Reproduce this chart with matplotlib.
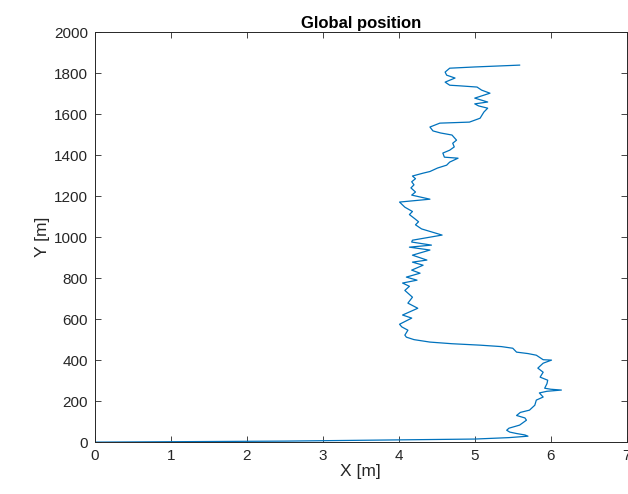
import matplotlib
matplotlib.use("Agg")
import matplotlib.pyplot as plt
import numpy as np

# Path of global position (X [m], Y [m])
x_m = [0.00, 2.50, 5.00, 5.45, 5.70, 5.66, 5.55, 5.46, 5.42, 5.45, 5.59, 5.68, 5.66, 5.55,
       5.60, 5.72, 5.79, 5.81, 5.90, 5.85, 5.95, 6.14, 6.00, 5.92, 5.95, 5.96, 5.86, 5.90,
       5.83, 5.90, 6.01, 5.90, 5.81, 5.70, 5.55, 5.50, 5.35, 5.07, 4.70, 4.41, 4.20, 4.10,
       4.08, 4.12, 4.04, 4.01, 4.17, 4.05, 4.25, 4.12, 4.18, 4.08, 4.14, 4.05, 4.24, 4.10,
       4.28, 4.17, 4.32, 4.18, 4.37, 4.18, 4.41, 4.14, 4.43, 4.17, 4.18, 4.57, 4.30, 4.22,
       4.26, 4.21, 4.14, 4.18, 4.08, 4.01, 4.41, 4.17, 4.22, 4.16, 4.20, 4.17, 4.22, 4.18,
       4.32, 4.41, 4.51, 4.63, 4.67, 4.78, 4.60, 4.58, 4.67, 4.73, 4.71, 4.76, 4.70, 4.55,
       4.45, 4.41, 4.54, 4.93, 5.07, 5.12, 5.17, 5.05, 5.00, 5.17, 5.00, 5.20, 5.09, 5.03,
       4.80, 4.67, 4.61, 4.74, 4.63, 4.61, 4.67, 5.00, 5.59]
y_m = [0, 5, 15, 22, 29, 35, 42, 49, 58, 68, 83, 107, 118, 130,
       145, 156, 180, 205, 220, 240, 248, 254, 258, 263, 285, 302, 317, 341,
       361, 385, 400, 402, 424, 432, 439, 458, 466, 473, 480, 488, 500, 512,
       522, 546, 562, 575, 605, 620, 653, 678, 707, 740, 760, 776, 790, 805,
       824, 839, 863, 878, 888, 912, 937, 951, 961, 976, 985, 1010, 1040, 1060,
       1075, 1090, 1110, 1125, 1146, 1171, 1185, 1205, 1220, 1240, 1255, 1270, 1285, 1298,
       1312, 1320, 1337, 1351, 1366, 1385, 1390, 1410, 1424, 1440, 1458, 1473, 1498, 1508,
       1518, 1537, 1556, 1561, 1580, 1610, 1629, 1640, 1650, 1659, 1678, 1702, 1717, 1732,
       1738, 1741, 1756, 1776, 1790, 1805, 1824, 1830, 1839]

x_ticks = [0, 1, 2, 3, 4, 5, 6, 7]
y_ticks = [0, 200, 400, 600, 800, 1000, 1200, 1400, 1600, 1800, 2000]

plt.rcParams['font.family'] = ['Liberation Sans', 'DejaVu Sans']

fig = plt.figure(figsize=(6.28, 4.94), dpi=100)
ax = fig.add_axes([0.151, 0.105, 0.847, 0.830])
ax.plot(x_m, y_m, color='#0072BD', linewidth=0.9)

ax.set_xlim(0, 7)
ax.set_ylim(0, 2000)
ax.set_xticks(x_ticks)
ax.set_yticks(y_ticks)
ax.tick_params(direction='in', top=True, right=True, length=4, width=0.6,
               labelsize=11, colors='#262626', pad=5)
for s in ax.spines.values():
    s.set_linewidth(0.7)
    s.set_color('#262626')

ax.set_xlabel('X [m]', fontsize=12.5, color='#262626', labelpad=1)
ax.set_ylabel('Y [m]', fontsize=12.5, color='#262626', labelpad=3)
ax.set_title('Global position', fontsize=12, fontweight='bold', color='black', pad=3)

fig.savefig('out.png', dpi=100)
